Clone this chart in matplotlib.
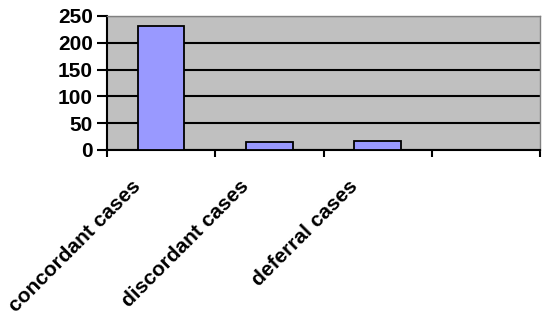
import numpy as np
import matplotlib.pyplot as plt
from matplotlib.transforms import ScaledTranslation

categories = ["concordant cases", "discordant cases", "deferral cases", ""]
counts = [232, 14, 17, 0]
yticks = [0, 50, 100, 150, 200, 250]

plt.rcParams['font.family'] = ['Liberation Sans', 'DejaVu Sans']
plt.rcParams['font.weight'] = 'bold'

fig = plt.figure(figsize=(5.45, 3.17), dpi=100)
ax = fig.add_axes([107 / 545, 1 - 150 / 317, 433 / 545, 134 / 317])
ax.set_facecolor('#c0c0c0')

x = np.arange(len(categories))
ax.bar(x[:3], counts[:3], width=0.43, color='#9999ff', edgecolor='black',
       linewidth=1.3, zorder=3)

ax.set_xlim(-0.5, len(categories) - 0.5)
ax.set_ylim(0, 250)
ax.set_yticks(yticks)
ax.set_yticklabels([str(v) for v in yticks], fontsize=15, fontweight='bold')
ax.yaxis.grid(True, color='black', linewidth=1.5, zorder=1)
ax.set_axisbelow(True)

# category ticks sit on the boundaries between slots
ax.set_xticks(np.arange(-0.5, len(categories), 1.0))
ax.set_xticklabels([])
ax.tick_params(axis='x', length=5, width=1.5, direction='out')
ax.tick_params(axis='y', length=7, width=1.5, direction='out', pad=3)

for i, lab in enumerate(categories):
    t = ax.text(i, 0, lab, rotation=45, ha='right', va='top',
                rotation_mode='anchor', fontsize=15, fontweight='bold')
    t.set_transform(ax.get_xaxis_transform() +
                    ScaledTranslation(-0.30, -0.27, fig.dpi_scale_trans))

for side in ['left', 'bottom']:
    ax.spines[side].set_color('black')
    ax.spines[side].set_linewidth(1.5)
for side in ['top', 'right']:
    ax.spines[side].set_color('#808080')
    ax.spines[side].set_linewidth(1.0)

fig.savefig('out.png', dpi=100)
